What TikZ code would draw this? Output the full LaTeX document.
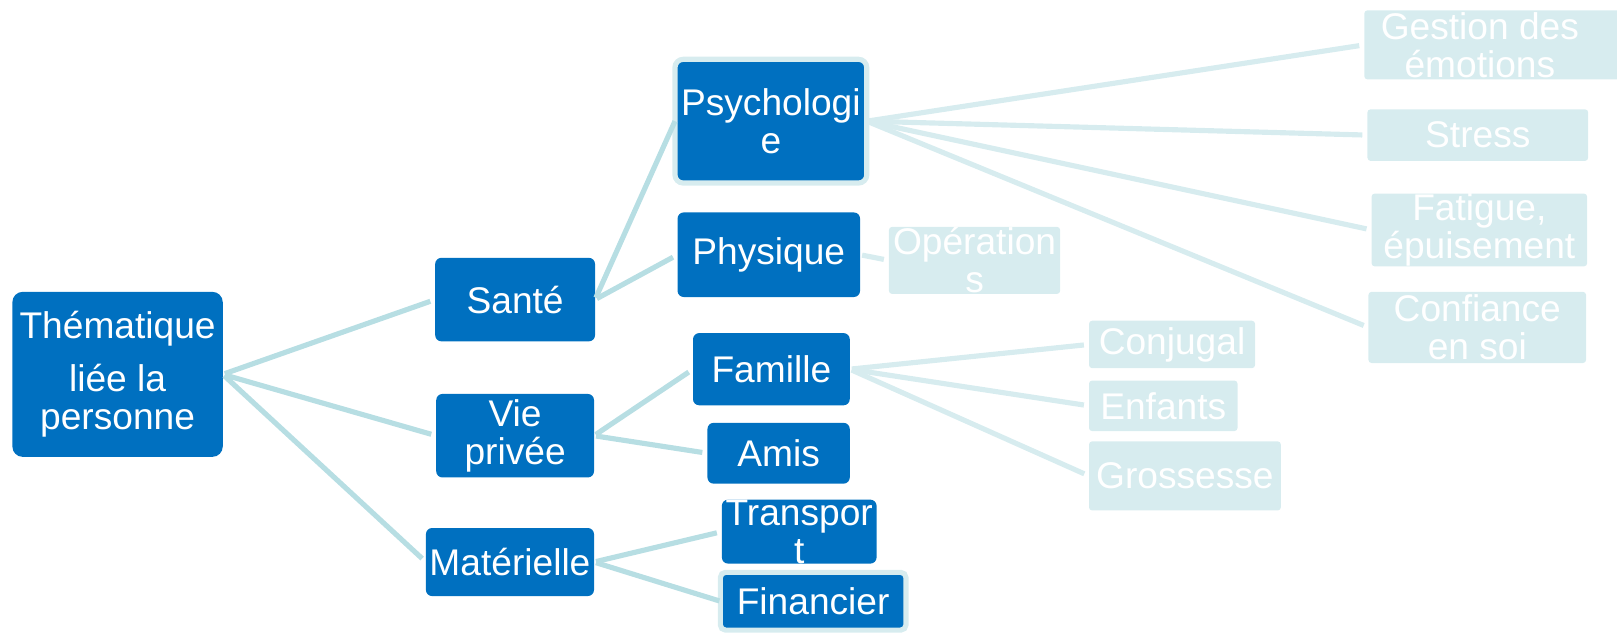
\documentclass[tikz,border=0pt]{standalone}
\usepackage{fontspec}
\setmainfont{Liberation Sans}
\definecolor{dkblue}{HTML}{0070C0}
\definecolor{conn}{HTML}{B7DEE3}
\definecolor{lite}{HTML}{D7ECEF}
\begin{document}
\begin{tikzpicture}[x=1pt,y=-1pt,
  every node/.style={inner sep=0pt, outer sep=0pt, align=center, text=white,
    font=\fontsize{36}{37}\selectfont},
  dark/.style={fill=dkblue, rounded corners=6pt},
  halo/.style={fill=dkblue, draw=lite, line width=5pt, rounded corners=8pt},
  light/.style={fill=lite, rounded corners=3pt},
  box/.style 2 args={minimum width=#1, minimum height=#2},
  cA/.style={draw=conn, line width=5pt, shorten <=2pt, shorten >=5pt},
  cB/.style={draw=lite, line width=5pt, shorten <=2pt, shorten >=5pt}]
\useasboundingbox (0,0) rectangle (1568,614);
% level 0
\node[dark, rounded corners=10pt, box={204}{160}] (root) at (114,363) {\raisebox{-3pt}{Thématique}\\[14pt]\raisebox{-3pt}{liée la}\\\raisebox{-3pt}{personne}};
% level 1
\node[dark, box={155}{81}] (sante) at (499.5,290.5) {Santé};
\node[dark, box={153}{81}] (vie) at (499.5,422.5) {Vie\\privée};
\node[dark, box={163}{66}] (mat) at (494.5,545) {Matérielle};
% level 2
\node[halo, box={186}{120}] (psy) at (747.5,117.5) {Psychologi\\e};
\node[dark, box={177}{82}] (phys) at (745.5,247) {Physique};
\node[dark, box={152}{70}] (fam) at (748,358) {Famille};
\node[dark, box={138}{59}] (amis) at (755,439.5) {Amis};
\node[dark, box={150}{61}] (trans) at (775,515.5) {Transpor\\t};
\node[halo, rounded corners=5pt, box={180}{56}] (fin) at (788.5,583) {Financier};
% level 3
\node[light, box={166}{65}] (ope) at (945,252.5) {Opération\\s};
\node[light, box={262}{67}] (gest) at (1454,43.5) {Gestion des\hspace*{38pt}\\émotions\hspace*{38pt}};
\node[light, box={214}{50}] (stress) at (1433,131) {Stress};
\node[light, box={209}{68}] (fat) at (1434.5,223) {Fatigue,\\épuisement};
\node[light, box={211}{69}] (conf) at (1432.5,317.5) {Confiance\\en soi};
\node[light, box={161}{46}] (conj) at (1136.5,334) {Conjugal};
\node[light, box={144}{49}] (enf) at (1128,393.5) {Enfants};
\node[light, box={186}{67}] (gros) at (1149,461.5) {Grossesse};
% connectors
\draw[cA] (root.east) -- (sante.west);
\draw[cA] (root.east) -- (vie.west);
\draw[cA] (root.east) -- (mat.west);
\draw[cA, shorten >=0pt] (sante.east) -- (psy.west);
\draw[cA] (sante.east) -- (phys.west);
\draw[cA] (vie.east) -- (fam.west);
\draw[cA] (vie.east) -- (amis.west);
\draw[cA] (mat.east) -- (trans.west);
\draw[cA, shorten >=1pt] (mat.east) -- (fin.west);
\draw[cB] (phys.east) -- (ope.west);
\draw[cB, shorten <=0pt] (psy.east) -- (gest.west);
\draw[cB, shorten <=0pt] (psy.east) -- (stress.west);
\draw[cB, shorten <=0pt] (psy.east) -- (fat.west);
\draw[cB, shorten <=0pt] (psy.east) -- (conf.west);
\draw[cB] (fam.east) -- (conj.west);
\draw[cB] (fam.east) -- (enf.west);
\draw[cB] (fam.east) -- (gros.west);
\end{tikzpicture}
\end{document}
